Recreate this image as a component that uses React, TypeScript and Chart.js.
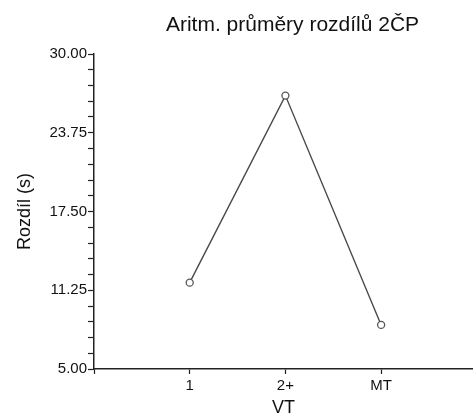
import React, { useEffect, useRef } from "react";
import { Chart, registerables } from "chart.js";

Chart.register(...registerables);

const chartTitle = "Aritm. průměry rozdílů 2ČP";
const xAxisTitle = "VT";
const yAxisTitle = "Rozdíl (s)";
const categories = ["1", "2+", "MT"];
const meanDiff = [11.85, 26.7, 8.5];
const yMajorTicks = [5, 11.25, 17.5, 23.75, 30];
const yMinorStep = 1.25;

const FONT = "'Liberation Sans', Arial, sans-serif";

const titlePlugin = {
  id: "customTitle",
  afterDraw(chart: any) {
    const { ctx, chartArea } = chart;
    ctx.save();
    ctx.font = `21px ${FONT}`;
    ctx.fillStyle = "#111";
    ctx.textAlign = "center";
    ctx.textBaseline = "alphabetic";
    ctx.fillText(chartTitle, (chartArea.left + chartArea.right) / 2 + 9, 31);
    ctx.restore();
  },
};

export default function App() {
  const ref = useRef<HTMLCanvasElement>(null);

  useEffect(() => {
    if (!ref.current) return;
    const chart = new Chart(ref.current, {
      type: "line",
      data: {
        datasets: [
          {
            data: meanDiff.map((v, i) => ({ x: i + 1, y: v })),
            borderColor: "#4a4a4a",
            borderWidth: 1.4,
            pointRadius: 3.5,
            pointBorderWidth: 1.3,
            pointBorderColor: "#555",
            pointBackgroundColor: "#fff",
            tension: 0,
          },
        ],
      },
      plugins: [titlePlugin],
      options: {
        animation: false,
        responsive: false,
        events: [],
        layout: { autoPadding: false, padding: { top: 54, right: 0, bottom: 0, left: 0 } },
        plugins: {
          legend: { display: false },
          tooltip: { enabled: false },
          title: { display: false },
        },
        scales: {
          x: {
            type: "linear",
            min: 0,
            max: 3.96,
            afterBuildTicks: (scale: any) => {
              scale.ticks = [0, 1, 2, 3].map((v) => ({ value: v }));
            },
            afterFit: (scale: any) => {
              scale.height = 45;
              scale.paddingRight = 0;
              scale.paddingLeft = 0;
            },
            ticks: {
              autoSkip: false,
              maxRotation: 0,
              padding: 3,
              color: "#111",
              font: { family: FONT, size: 15 },
              callback: (v: any) => categories[Number(v) - 1] ?? "",
            },
            grid: {
              drawOnChartArea: false,
              drawTicks: true,
              tickLength: 5,
              tickColor: "#222",
              tickWidth: 1.2,
            },
            border: { display: true, color: "#222", width: 1.5 },
            title: {
              display: true,
              text: xAxisTitle,
              color: "#111",
              font: { family: FONT, size: 18, lineHeight: 1 },
              padding: { top: 0, bottom: -3 },
            },
          },
          y: {
            type: "linear",
            min: yMajorTicks[0],
            max: yMajorTicks[yMajorTicks.length - 1],
            afterFit: (scale: any) => {
              scale.width = 94;
            },
            ticks: {
              stepSize: yMinorStep,
              autoSkip: false,
              padding: 1,
              color: "#111",
              font: { family: FONT, size: 15 },
              callback: (v: any) => {
                const n = Number(v);
                return yMajorTicks.some((m) => Math.abs(m - n) < 1e-6) ? n.toFixed(2) : "";
              },
            },
            grid: {
              drawOnChartArea: false,
              drawTicks: true,
              tickLength: 6,
              tickColor: "#222",
              tickWidth: 1.2,
            },
            border: { display: true, color: "#222", width: 1.5 },
            title: {
              display: true,
              text: yAxisTitle,
              color: "#111",
              font: { family: FONT, size: 18 },
              padding: { top: 14, bottom: 0 },
            },
          },
        },
      },
    });
    return () => chart.destroy();
  }, []);

  return (
    <div style={{ position: "fixed", left: 0, top: 0, width: 473, height: 414, background: "#fff" }}>
      <canvas ref={ref} width={473} height={414} />
    </div>
  );
}
